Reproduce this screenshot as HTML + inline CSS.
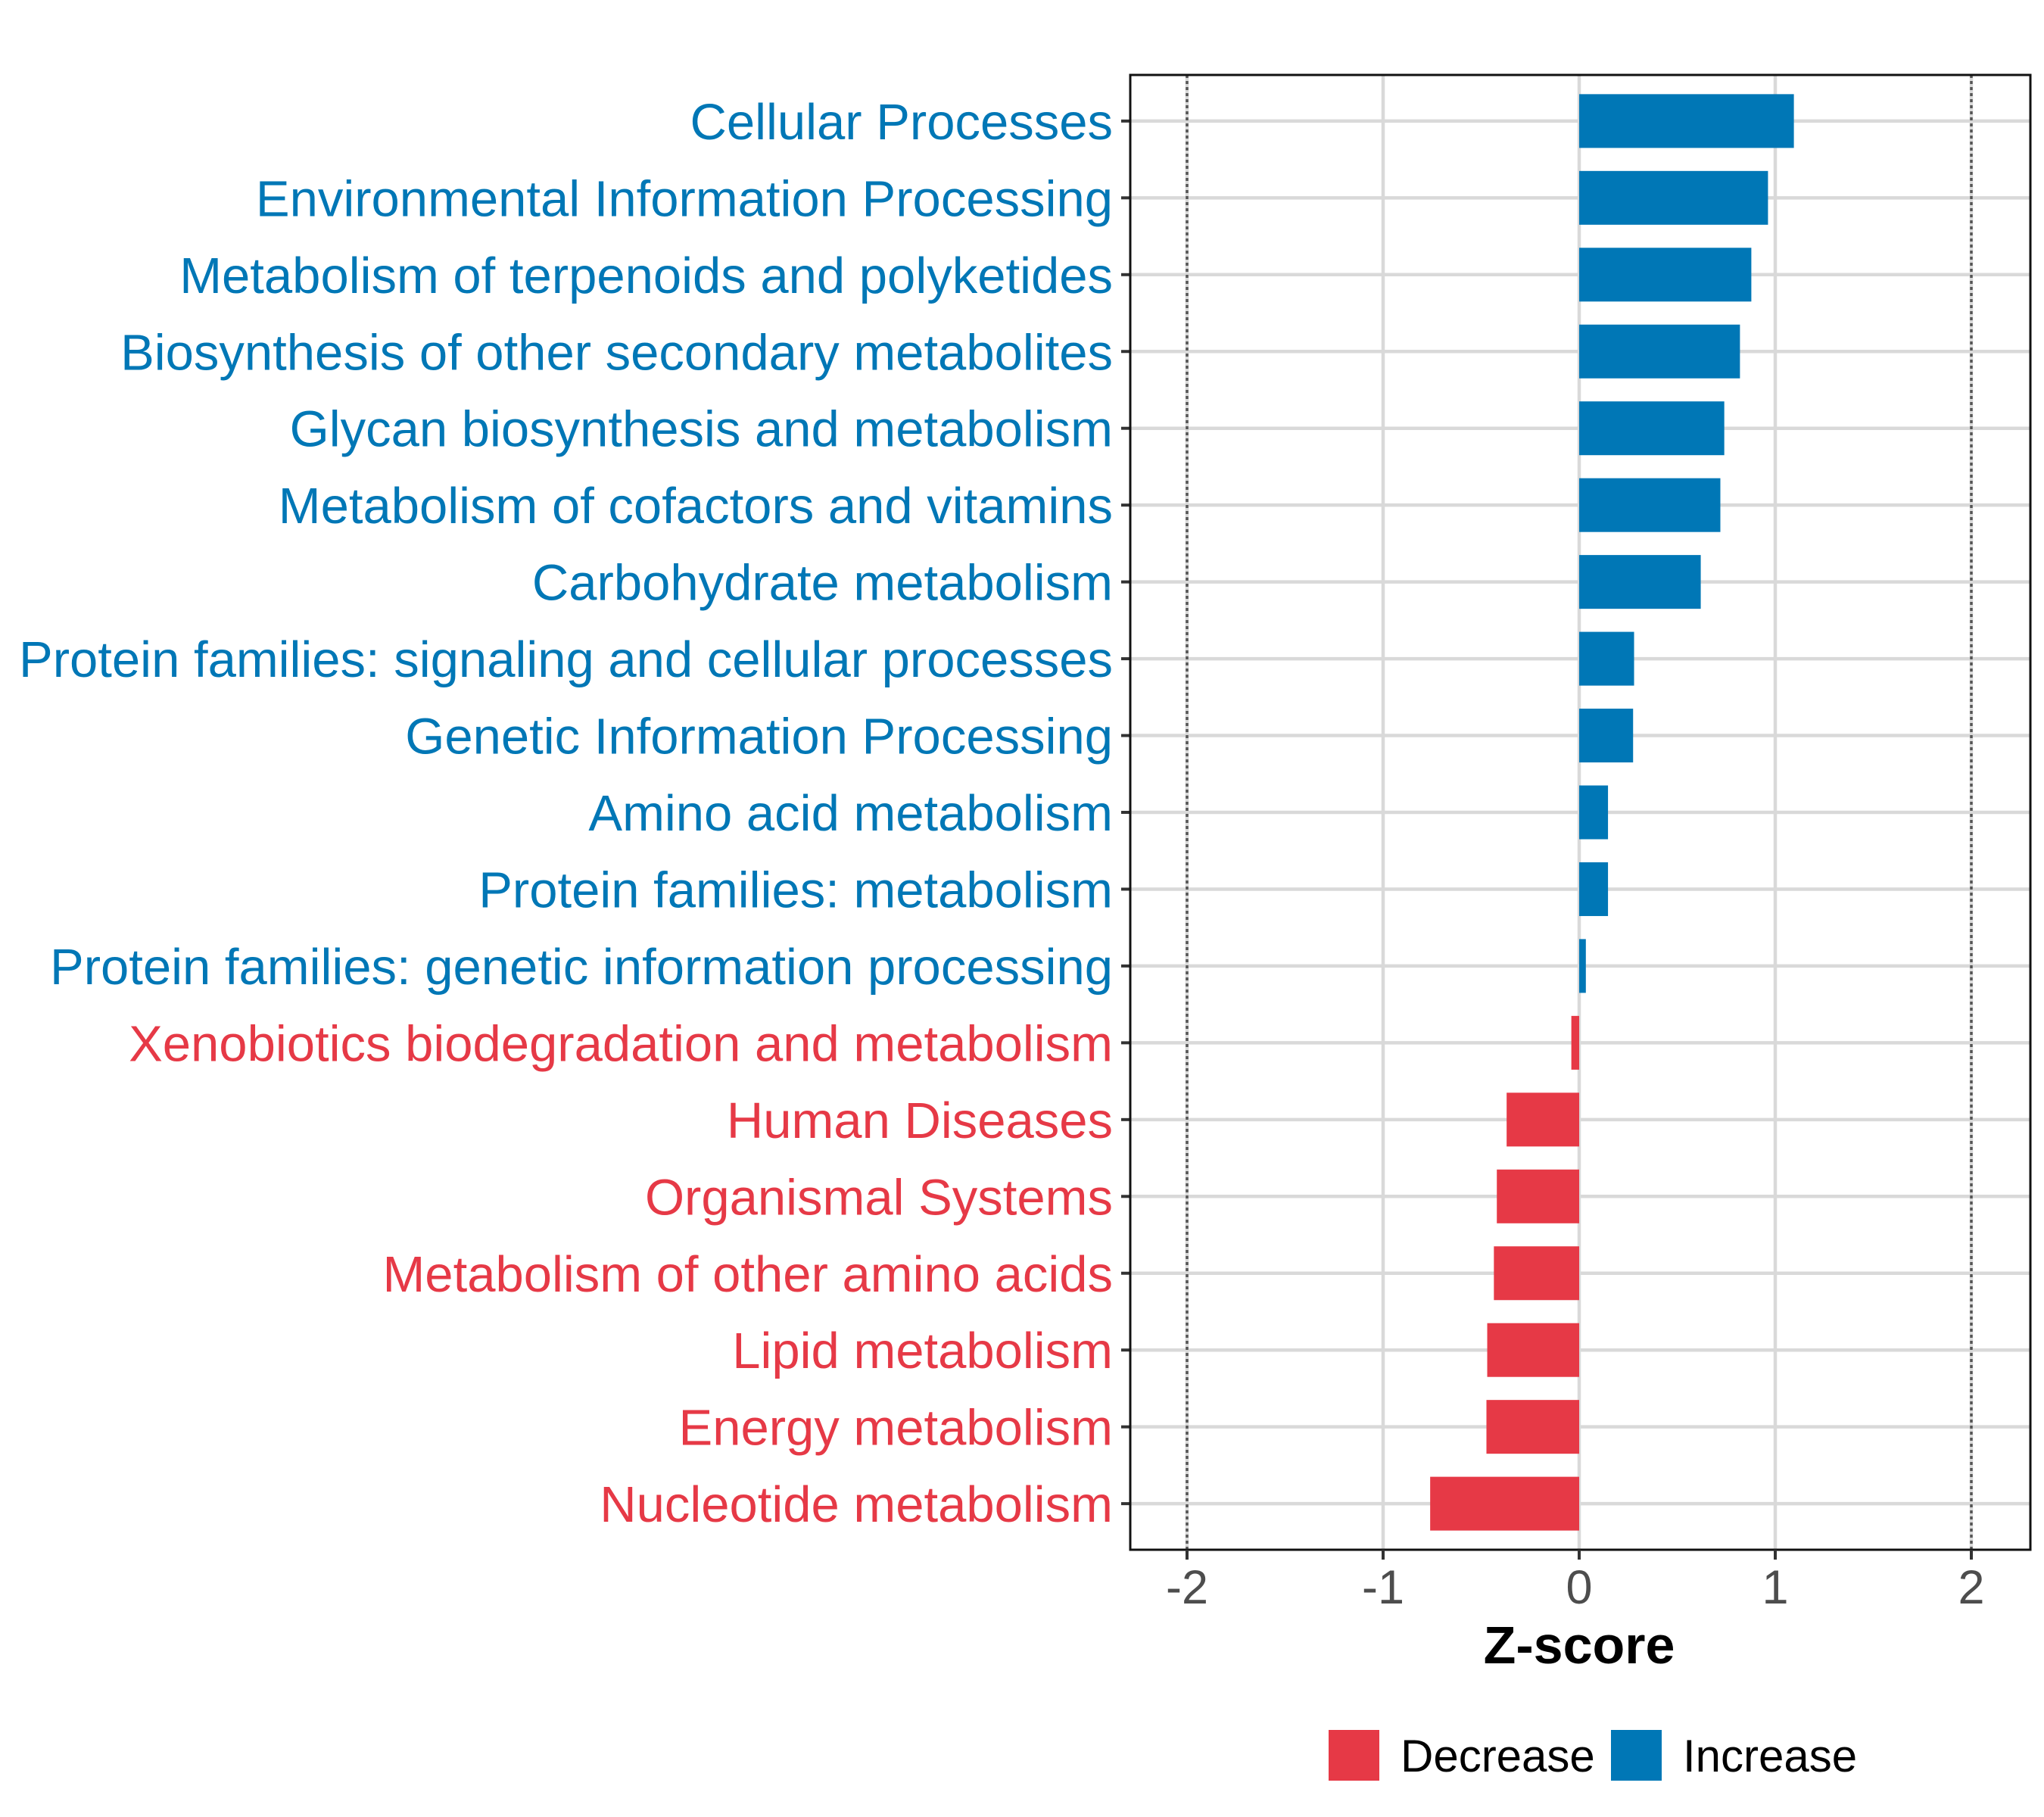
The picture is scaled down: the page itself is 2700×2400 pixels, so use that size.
<!DOCTYPE html>
<html><head><meta charset="utf-8"><style>html,body{margin:0;padding:0;background:#fff}svg{display:block}</style></head>
<body>
<svg id="chart" width="2700" height="2400" viewBox="0 0 2700 2400" xmlns="http://www.w3.org/2000/svg" font-family="'Liberation Sans', Arial, sans-serif">
<rect width="2700" height="2400" fill="#fff"/>
<g id="grid"></g><g id="bars"></g><g id="axes"></g>
</svg>
<script>
const categories = ["Cellular Processes","Environmental Information Processing","Metabolism of terpenoids and polyketides","Biosynthesis of other secondary metabolites","Glycan biosynthesis and metabolism","Metabolism of cofactors and vitamins","Carbohydrate metabolism","Protein families: signaling and cellular processes","Genetic Information Processing","Amino acid metabolism","Protein families: metabolism","Protein families: genetic information processing","Xenobiotics biodegradation and metabolism","Human Diseases","Organismal Systems","Metabolism of other amino acids","Lipid metabolism","Energy metabolism","Nucleotide metabolism"];
const zscores = [1.095,0.963,0.878,0.82,0.74,0.72,0.62,0.28,0.275,0.147,0.147,0.034,-0.04,-0.37,-0.42,-0.435,-0.469,-0.473,-0.76];
const xTicks = [-2,-1,0,1,2];
const xTickLabels = ["-2","-1","0","1","2"];
const refLines = [-2,2];
const legendLabels = ["Decrease","Increase"];

const NS="http://www.w3.org/2000/svg";
const P={l:1493,r:2682,t:99,b:2047};
const x0=2086, unit=259;
function xs(v){return x0+v*unit;}
const step=(P.b-P.t)/(categories.length-1+1.2);
function ys(i){return P.t+0.6*step+i*step;}
const BLUE="#0077b6", RED="#e63946";
function mk(tag,attrs,parent){const e=document.createElementNS(NS,tag);for(const k in attrs)e.setAttribute(k,attrs[k]);parent.appendChild(e);return e;}
const grid=document.getElementById('grid'), bars=document.getElementById('bars'), axes=document.getElementById('axes');

xTicks.forEach(v=>{
  const g=mk('line',{x1:xs(v),x2:xs(v),y1:P.t,y2:P.b,stroke:'#d9d9d9','stroke-width':4.5},grid);
  
  
});
categories.forEach((c,i)=>{
  const g=mk('line',{x1:P.l,x2:P.r,y1:ys(i),y2:ys(i),stroke:'#d9d9d9','stroke-width':4.5},grid);
  
  
});
refLines.forEach(v=>{
  const l=mk('line',{x1:xs(v),x2:xs(v),y1:P.t,y2:P.b,stroke:'#555','stroke-width':3.5,'stroke-dasharray':'4 4'},grid);
  
  
});
const bh=step*0.7;
categories.forEach((c,i)=>{
  const v=zscores[i];
  const col=v>=0?BLUE:RED;
  const r=mk('rect',{x:Math.min(xs(0),xs(v)),y:ys(i)-bh/2,width:Math.abs(xs(v)-xs(0)),height:bh,fill:col},bars);
  
  
  const t=mk('text',{x:1470,y:ys(i)+24,'text-anchor':'end','font-size':67,fill:col},axes);
  t.textContent=c;
  
  
  const tk=mk('line',{x1:P.l-12,x2:P.l,y1:ys(i),y2:ys(i),stroke:'#333','stroke-width':4},axes);
  
  
});
const fr=mk('rect',{x:P.l,y:P.t,width:P.r-P.l,height:P.b-P.t,fill:'none',stroke:'#111','stroke-width':3},axes);


xTicks.forEach((v,i)=>{
  const tk=mk('line',{x1:xs(v),x2:xs(v),y1:P.b,y2:P.b+13,stroke:'#333','stroke-width':4},axes);
  
  
  const t=mk('text',{x:xs(v),y:2118,'text-anchor':'middle','font-size':63,fill:'#4d4d4d'},axes);
  t.textContent=xTickLabels[i];
  
  
});
const xt=mk('text',{x:xs(0),y:2197,'text-anchor':'middle','font-size':70,'font-weight':'bold',fill:'#000'},axes);
xt.textContent='Z-score';


const legX=[1755,2128], legCol=[RED,BLUE];
legendLabels.forEach((lab,i)=>{
  const s=mk('rect',{x:legX[i],y:2285,width:67,height:67,fill:legCol[i]},axes);
  
  
  const t=mk('text',{x:legX[i]+95,y:2340,'font-size':60,fill:'#000'},axes);
  t.textContent=lab;
  
  
});
</script>
</body></html>
